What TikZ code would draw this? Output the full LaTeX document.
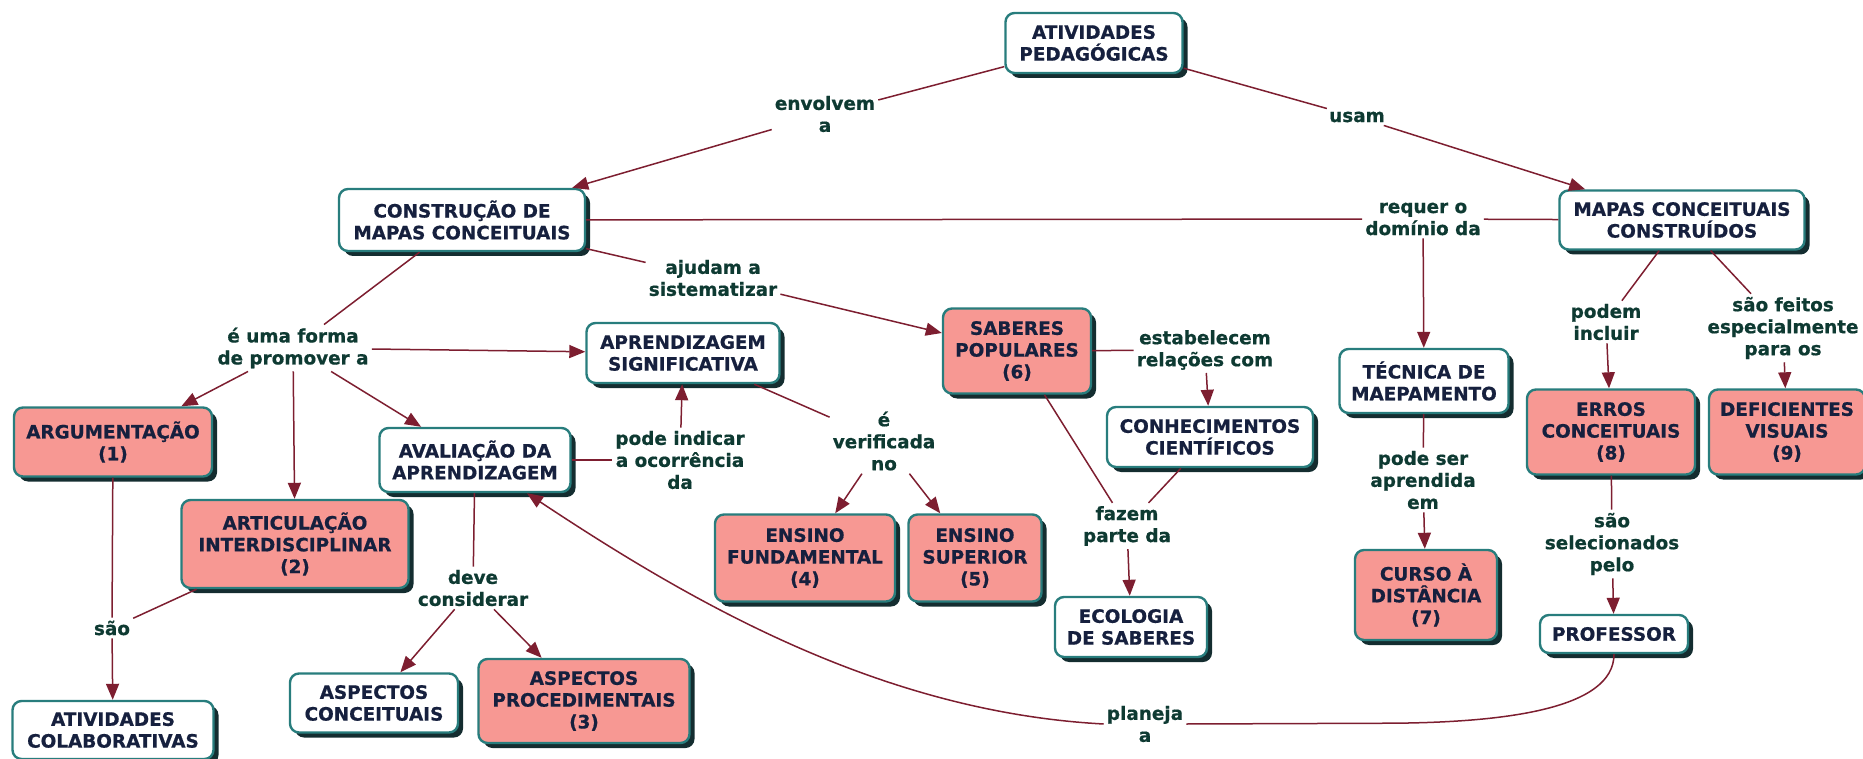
\documentclass[tikz,border=0pt]{standalone}
\usepackage{fontspec}
\setmainfont{DejaVu Sans}[BoldFont={DejaVu Sans Bold}, BoldFeatures={FakeBold=0.7}]
\usetikzlibrary{arrows.meta,shadows,calc}
\definecolor{cline}{RGB}{125,30,48}
\definecolor{bord}{RGB}{40,125,125}
\definecolor{shad}{RGB}{20,45,48}
\definecolor{pinkf}{RGB}{247,152,147}
\definecolor{ctext}{RGB}{22,32,62}
\definecolor{ltext}{RGB}{14,58,50}
\tikzset{
  concept/.style={draw=bord, line width=2.4pt, rounded corners=9pt, fill=white, text=ctext,
    align=center, font=\fontsize{18.4}{21.8}\selectfont\bfseries, inner sep=2pt,
    general shadow={fill=shad, shadow xshift=5pt, shadow yshift=-5pt}},
  pinkc/.style={concept, fill=pinkf},
  sz/.style 2 args={minimum width=#1pt, minimum height=#2pt},
  lbl/.style={text=ltext, align=center, font=\fontsize{18.4}{22}\selectfont\bfseries, inner sep=3pt},
  conn/.style={draw=cline, line width=1.5pt},
  arr/.style={conn, -{Triangle[length=16pt,width=13pt]}},
}
\begin{document}
\begin{tikzpicture}[x=1pt,y=-1pt]
\useasboundingbox (0,0) rectangle (1863,759);
% concepts
\node[concept, sz={177}{60}] (atv) at (1094,43) {ATIVIDADES\\PEDAGÓGICAS};
\node[concept, sz={246}{62}] (cons) at (462,220) {CONSTRUÇÃO DE\\MAPAS CONCEITUAIS};
\node[concept, sz={245}{59}] (mapas) at (1682,220) {MAPAS CONCEITUAIS\\CONSTRUÍDOS};
\node[concept, sz={193}{60}] (apr) at (683,353) {APRENDIZAGEM\\SIGNIFICATIVA};
\node[pinkc, sz={148}{85}] (sab) at (1017,351) {SABERES\\POPULARES\\(6)};
\node[concept, sz={206}{60}] (conh) at (1210,437) {CONHECIMENTOS\\CIENTÍFICOS};
\node[concept, sz={152}{60}] (eco) at (1131,627) {ECOLOGIA\\DE SABERES};
\node[pinkc, sz={180}{87}] (ef) at (805,558) {ENSINO\\FUNDAMENTAL\\(4)};
\node[pinkc, sz={133}{87}] (es) at (975,558) {ENSINO\\SUPERIOR\\(5)};
\node[concept, sz={191}{64}] (ava) at (475,460) {AVALIAÇÃO DA\\APRENDIZAGEM};
\node[pinkc, sz={198}{69}] (arg) at (113,442) {ARGUMENTAÇÃO\\(1)};
\node[pinkc, sz={227}{88}] (art) at (295,544) {ARTICULAÇÃO\\INTERDISCIPLINAR\\(2)};
\node[concept, sz={201}{58}] (col) at (113,730) {ATIVIDADES\\COLABORATIVAS};
\node[concept, sz={168}{59}] (asc) at (374,703) {ASPECTOS\\CONCEITUAIS};
\node[pinkc, sz={211}{84}] (asp) at (584,701) {ASPECTOS\\PROCEDIMENTAIS\\(3)};
\node[concept, sz={169}{64}] (tec) at (1424,381) {TÉCNICA DE\\MAEPAMENTO};
\node[pinkc, sz={142}{90}] (cur) at (1426,595) {CURSO À\\DISTÂNCIA\\(7)};
\node[pinkc, sz={168}{85}] (err) at (1611,432) {ERROS\\CONCEITUAIS\\(8)};
\node[pinkc, sz={156}{85}] (def) at (1787,432) {DEFICIENTES\\VISUAIS\\(9)};
\node[concept, sz={148}{38}] (prof) at (1614,634) {PROFESSOR};
% linking phrases
\node[lbl] (envL) at (825,114) {envolvem\\a};
\node[lbl] (usaL) at (1357,117) {usam};
\node[lbl] (ajuL) at (713,278) {ajudam a\\sistematizar};
\node[lbl] (reqL) at (1423,219) {requer o\\domínio da};
\node[lbl] (formL) at (293,348) {é uma forma\\de promover a};
\node[lbl] (estL) at (1205,350) {estabelecem\\relações com};
\node[lbl] (podL) at (680,460) {pode indicar\\a ocorrência\\da};
\node[lbl] (verL) at (884,441) {é\\verificada\\no};
\node[lbl] (fazL) at (1127,526) {fazem\\parte da};
\node[lbl] (devL) at (473,588) {deve\\considerar};
\node[lbl] (saoL) at (112,628) {são};
\node[lbl] (serL) at (1423,480) {pode ser\\aprendida\\em};
\node[lbl] (pincL) at (1606,322) {podem\\incluir};
\node[lbl] (feiL) at (1783,328) {são feitos\\especialmente\\para os};
\node[lbl] (selL) at (1612,544) {são\\selecionados\\pelo};
\node[lbl] (plaL) at (1145,724) {planeja\\a};
% connectors
\draw[conn] (atv) -- (envL);
\draw[arr] (envL) -- (cons);
\draw[conn] (atv) -- (usaL);
\draw[arr] (usaL) -- (mapas);
\draw[conn] (cons) -- (ajuL);
\draw[arr] (ajuL) -- (sab);
\draw[conn] (cons) -- (reqL);
\draw[conn] (mapas) -- (reqL);
\draw[arr] (reqL) -- (tec);
\draw[conn] (cons) -- (formL);
\draw[arr] (formL) -- (apr);
\draw[arr] (formL) -- (arg);
\draw[arr] (formL) -- (art);
\draw[arr] (formL) -- (ava);
\draw[conn] (sab) -- (estL);
\draw[arr] (estL) -- (conh);
\draw[conn] (ava) -- (podL);
\draw[arr] (podL) -- (apr);
\draw[conn] (apr) -- (verL);
\draw[arr] (verL) -- (ef);
\draw[arr] (verL) -- (es);
\draw[conn] (sab) -- (fazL);
\draw[conn] (conh) -- (fazL);
\draw[arr] (fazL) -- (eco);
\draw[conn] (ava) -- (devL);
\draw[arr] (devL) -- (asc);
\draw[arr] (devL) -- (asp);
\draw[conn] (arg) -- (saoL);
\draw[conn] (art) -- (saoL);
\draw[arr] (saoL) -- (col);
\draw[conn] (tec) -- (serL);
\draw[arr] (serL) -- (cur);
\draw[conn] (mapas) -- (pincL);
\draw[arr] (pincL) -- (err);
\draw[conn] (mapas) -- (feiL);
\draw[arr] (feiL) -- (def);
\draw[conn] (err) -- (selL);
\draw[arr] (selL) -- (prof);
\draw[conn] (prof.south) .. controls ($(prof.south)+(0,55)$) and ($(prof.south)+(-110,68)$) .. ($(prof.south)+(-220,69)$) -- (plaL.east);
\draw[arr] (plaL.west) .. controls ($(plaL.west)+(-224,-12)$) and ($(ava.south)+(215,108)$) .. ([xshift=52pt]ava.south);
\end{tikzpicture}
\end{document}
